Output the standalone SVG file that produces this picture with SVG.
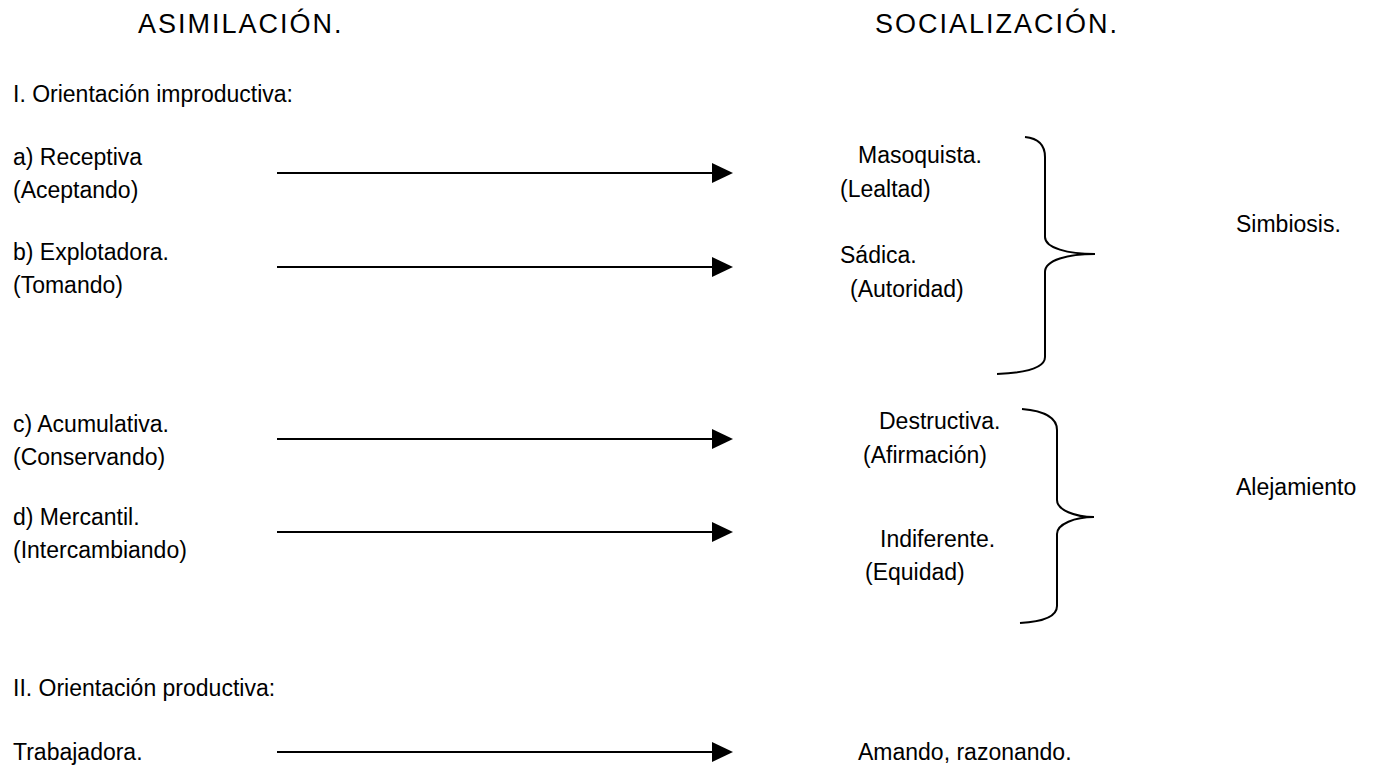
<svg xmlns="http://www.w3.org/2000/svg" width="1380" height="770" viewBox="0 0 1380 770">
<defs>
<style>
text{font-family:"Liberation Sans","DejaVu Sans",sans-serif;font-size:23px;fill:#000}
.h{font-size:27px;letter-spacing:2px}
.ln{stroke:#000;stroke-width:2;fill:none}
.br{stroke:#000;stroke-width:2;fill:none}
</style>
<marker id="ah" markerUnits="userSpaceOnUse" markerWidth="22" markerHeight="22" refX="0" refY="10" orient="auto">
<path d="M0,0 L21,10 L0,20 Z" fill="#000"/>
</marker>
</defs>
<rect width="1380" height="770" fill="#fff"/>
<g id="headings">
<text class="h" x="138" y="33">ASIMILACIÓN.</text>
<text class="h" x="875" y="33">SOCIALIZACIÓN.</text>
<text x="13" y="102">I. Orientación improductiva:</text>
<text x="13" y="696">II. Orientación productiva:</text>
</g>
<g id="left">
<g id="n-a"><text x="13" y="165">a) Receptiva</text><text x="13" y="198">(Aceptando)</text></g>
<g id="n-b"><text x="13" y="260">b) Explotadora.</text><text x="13" y="293">(Tomando)</text></g>
<g id="n-c"><text x="13" y="432">c) Acumulativa.</text><text x="13" y="465">(Conservando)</text></g>
<g id="n-d"><text x="13" y="525">d) Mercantil.</text><text x="13" y="558">(Intercambiando)</text></g>
<g id="n-t"><text x="13" y="760">Trabajadora.</text></g>
</g>
<g id="right">
<g id="n-maso"><text x="858" y="163">Masoquista.</text><text x="840" y="197">(Lealtad)</text></g>
<g id="n-sad"><text x="840" y="263">Sádica.</text><text x="850" y="297">(Autoridad)</text></g>
<g id="n-des"><text x="879" y="429">Destructiva.</text><text x="863" y="463">(Afirmación)</text></g>
<g id="n-ind"><text x="880" y="547">Indiferente.</text><text x="865" y="580">(Equidad)</text></g>
<g id="n-am"><text x="858" y="760">Amando, razonando.</text></g>
</g>
<g id="groups">
<g id="n-sim"><text x="1236" y="232">Simbiosis.</text></g>
<g id="n-ale"><text x="1236" y="495">Alejamiento</text></g>
</g>
<g id="connectors">
<line class="ln" x1="277" y1="173" x2="712" y2="173" marker-end="url(#ah)"/>
<line class="ln" x1="277" y1="267" x2="712" y2="267" marker-end="url(#ah)"/>
<line class="ln" x1="277" y1="439" x2="712" y2="439" marker-end="url(#ah)"/>
<line class="ln" x1="277" y1="532" x2="712" y2="532" marker-end="url(#ah)"/>
<line class="ln" x1="277" y1="752" x2="712" y2="752" marker-end="url(#ah)"/>
<path class="br" d="M1025,137 Q1045,139 1045,157 L1045,237 C1045,248 1068,254 1095,254 C1068,254 1045,260 1045,272 L1045,357 Q1045,372 997,374"/>
<path class="br" d="M1022,409 Q1057,412 1057,430 L1057,500 C1057,510 1075,517 1094,517 C1075,517 1057,524 1057,534 L1057,606 Q1057,621 1020,623"/>
</g>
</svg>
